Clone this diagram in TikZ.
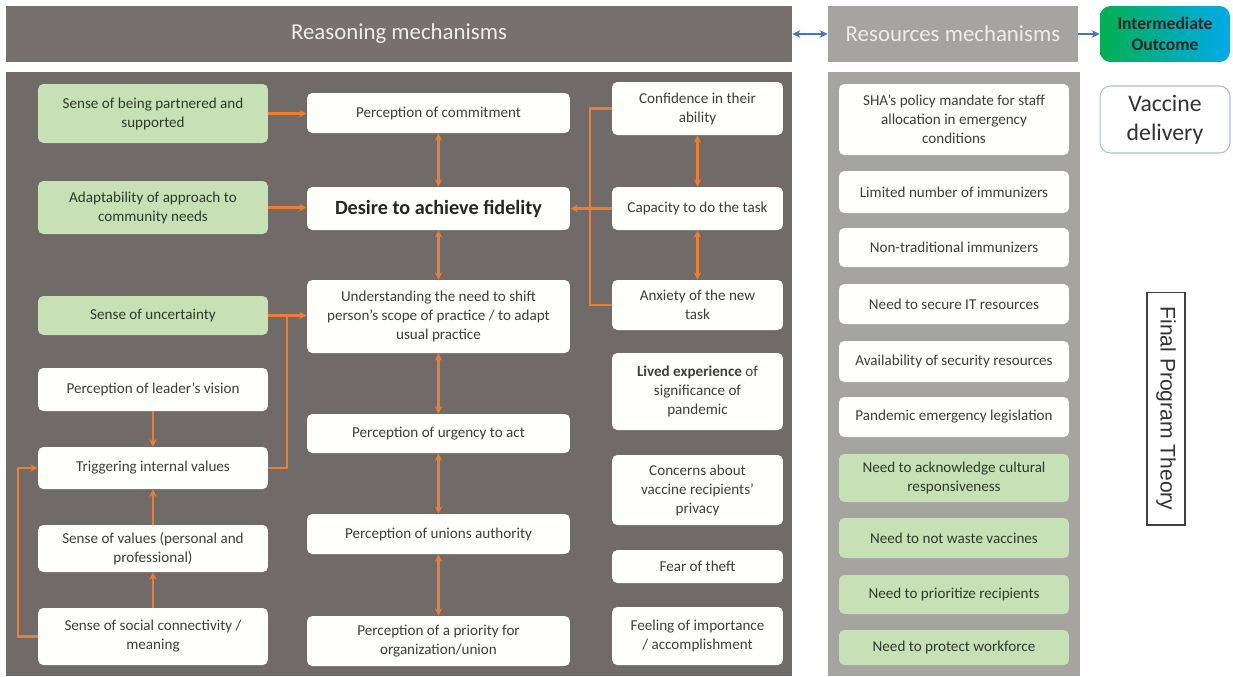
\documentclass[tikz,border=0pt]{standalone}
\usepackage{fontspec}
\setmainfont{Carlito}
\newfontfamily\theoryfont{Liberation Sans}
\usetikzlibrary{arrows.meta}
\definecolor{panel}{RGB}{112,106,105}
\definecolor{panelhead}{RGB}{118,112,111}
\definecolor{respanel}{RGB}{166,164,161}
\definecolor{boxwhite}{RGB}{255,255,251}
\definecolor{boxgreen}{RGB}{199,224,182}
\definecolor{ink}{RGB}{62,62,62}
\definecolor{greenink}{RGB}{45,58,42}
\definecolor{flow}{RGB}{237,125,49}
\definecolor{link}{RGB}{68,114,196}
\definecolor{outgreen}{RGB}{0,176,80}
\definecolor{outblue}{RGB}{0,170,235}
\definecolor{frame}{RGB}{175,195,212}

\begin{document}
\begin{tikzpicture}[
  x=0.02cm, y=-0.02cm,
  box/.style={
    rounded corners=3pt, fill=boxwhite, text=ink,
    font=\fontsize{8.6}{10.8}\selectfont, align=center, inner sep=1pt
  },
  greenbox/.style={box, fill=boxgreen, text=greenink},
  leftcol/.style={minimum width=4.6cm},
  midcol/.style={minimum width=5.26cm},
  rightcol/.style={minimum width=3.42cm},
  rescol/.style={minimum width=4.6cm},
  ht/.style={minimum height=#1*0.02cm},
  header/.style={
    inner sep=0pt, text=white!93!black,
    font=\fontsize{13}{15}\selectfont
  },
  orflow/.style={-{Stealth[length=1.5mm,width=1.5mm]}, line width=1.2pt, draw=flow},
  orboth/.style={{Stealth[length=1.5mm,width=1.5mm]}-{Stealth[length=1.5mm,width=1.5mm]},
    line width=1.2pt, draw=flow},
  orline/.style={line width=1.2pt, draw=flow},
  blueflow/.style={-{Stealth[length=1.6mm,width=1.5mm]}, line width=1pt, draw=link},
  blueboth/.style={{Stealth[length=1.6mm,width=1.5mm]}-{Stealth[length=1.6mm,width=1.5mm]},
    line width=1pt, draw=link}
]
\useasboundingbox (0,0) rectangle (1233,676);

% Panels and header bars.
\fill[panel] (6,72) rectangle (792,676);
\fill[respanel] (828,72) rectangle (1080,676);
\node[header, fill=panelhead, minimum width=15.72cm, minimum height=1.12cm]
  (reasonhdr) at (399,34) {Reasoning mechanisms};
\node[header, fill=respanel, minimum width=5.0cm, minimum height=1.12cm]
  (reshdr) at (953,34) {Resources mechanisms};
\node[rounded corners=6pt, left color=outgreen, right color=outblue,
  minimum width=2.6cm, minimum height=1.12cm, align=center, text=black!85,
  font=\bfseries\fontsize{10}{12}\selectfont]
  (outcome) at (1165,34) {Intermediate\\Outcome};
\node[draw=frame, line width=0.6pt, rounded corners=6pt, fill=white,
  minimum width=2.6cm, minimum height=1.34cm, align=center, text=black!80,
  font=\fontsize{13.5}{16.5}\selectfont]
  (vaccine) at (1165,119.5) {Vaccine\\delivery};
\node[draw=black!75, line width=0.6pt, fill=white, rotate=-90,
  minimum width=4.66cm, minimum height=0.76cm, inner sep=0pt,
  font=\theoryfont\fontsize{12}{14}\selectfont, text=black!80]
  (theory) at (1166,408.5) {Final Program Theory};

% Left column.
\node[greenbox, leftcol, ht=59] (partnered) at (153,113.5) {Sense of being partnered and\\supported};
\node[greenbox, leftcol, ht=53] (adapt) at (153,207.5) {Adaptability of approach to\\community needs};
\node[greenbox, leftcol, ht=39] (uncertain) at (153,315.5) {Sense of uncertainty};
\node[box, leftcol, ht=43] (vision) at (153,389.5) {Perception of leader's vision};
\node[box, leftcol, ht=42] (trigger) at (153,468) {Triggering internal values};
\node[box, leftcol, ht=47] (values) at (153,548.5) {Sense of values (personal and\\professional)};
\node[box, leftcol, ht=57] (social) at (153,636.5) {Sense of social connectivity /\\meaning};

% Middle column.
\node[box, midcol, ht=40] (commit) at (438.5,113) {Perception of commitment};
\node[box, midcol, ht=43, font=\bfseries\fontsize{11.5}{13}\selectfont, text=black!85]
  (desire) at (438.5,208.5) {Desire to achieve fidelity};
\node[box, midcol, ht=73] (underst) at (438.5,316.5) {Understanding the need to shift\\person's scope of practice / to adapt\\usual practice};
\node[box, midcol, ht=39] (urgency) at (438.5,433.5) {Perception of urgency to act};
\node[box, midcol, ht=40] (unions) at (438.5,534) {Perception of unions authority};
\node[box, midcol, ht=50] (priority) at (438.5,641) {Perception of a priority for\\organization/union};

% Right column.
\node[box, rightcol, ht=53] (confid) at (697.5,108.5) {Confidence in their\\ability};
\node[box, rightcol, ht=43] (capacity) at (697.5,208.5) {Capacity to do the task};
\node[box, rightcol, ht=50] (anxiety) at (697.5,305) {Anxiety of the new\\task};
\node[box, rightcol, ht=77] (lived) at (697.5,391.5) {\textbf{Lived experience} of\\significance of\\pandemic};
\node[box, rightcol, ht=70] (privacy) at (697.5,490) {Concerns about\\vaccine recipients'\\privacy};
\node[box, rightcol, ht=33] (theft) at (697.5,566.5) {Fear of theft};
\node[box, rightcol, ht=58] (feeling) at (697.5,636) {Feeling of importance\\/ accomplishment};

% Resources column.
\node[box, rescol, ht=71] (mandate) at (954,119.5) {SHA's policy mandate for staff\\allocation in emergency\\conditions};
\node[box, rescol, ht=42] (limited) at (954,192) {Limited number of immunizers};
\node[box, rescol, ht=39] (nontrad) at (954,247.5) {Non-traditional immunizers};
\node[box, rescol, ht=40] (itres) at (954,304) {Need to secure IT resources};
\node[box, rescol, ht=41] (security) at (954,361.5) {Availability of security resources};
\node[box, rescol, ht=40] (legis) at (954,417) {Pandemic emergency legislation};
\node[greenbox, rescol, ht=48] (cultural) at (954,478) {Need to acknowledge cultural\\responsiveness};
\node[greenbox, rescol, ht=40] (waste) at (954,538) {Need to not waste vaccines};
\node[greenbox, rescol, ht=39] (recips) at (954,594.5) {Need to prioritize recipients};
\node[greenbox, rescol, ht=35] (workforce) at (954,647.5) {Need to protect workforce};

% Header links.
\draw[blueboth] (reasonhdr.east) -- (reshdr.west);
\draw[blueflow] (reshdr.east) -- (outcome.west);

% Bus points for the bracket connectors.
\coordinate (tjoin) at (287,315.5);
\coordinate (rbus) at (590,208.5);
\coordinate (lbus) at (18,552);

% Into the central chain.
\draw[orflow] (partnered.east) -- (partnered.east -| commit.west);
\draw[orflow] (adapt.east) -- (adapt.east -| desire.west);
\draw[orflow] (uncertain.east) -- (uncertain.east -| underst.west);
\draw[orline] (trigger.east) -| (tjoin);
\draw[orboth] (commit.south) -- (desire.north);
\draw[orboth] (desire.south) -- (underst.north);
\draw[orboth] (underst.south) -- (urgency.north);
\draw[orboth] (urgency.south) -- (unions.north);
\draw[orboth] (unions.south) -- (priority.north);

% Right bracket.
\draw[orboth] (confid.south) -- (capacity.north);
\draw[orboth] (capacity.south) -- (anxiety.north);
\draw[orline] (confid.west) -| (rbus) |- (anxiety.west);
\draw[orflow] (capacity.west) -- (desire.east);

% Left stack.
\draw[orflow] (vision.south) -- (trigger.north);
\draw[orflow] (values.north) -- (trigger.south);
\draw[orflow] (social.north) -- (values.south);
\draw[orflow] (social.west) -| (lbus) |- (trigger.west);

\end{tikzpicture}
\end{document}
